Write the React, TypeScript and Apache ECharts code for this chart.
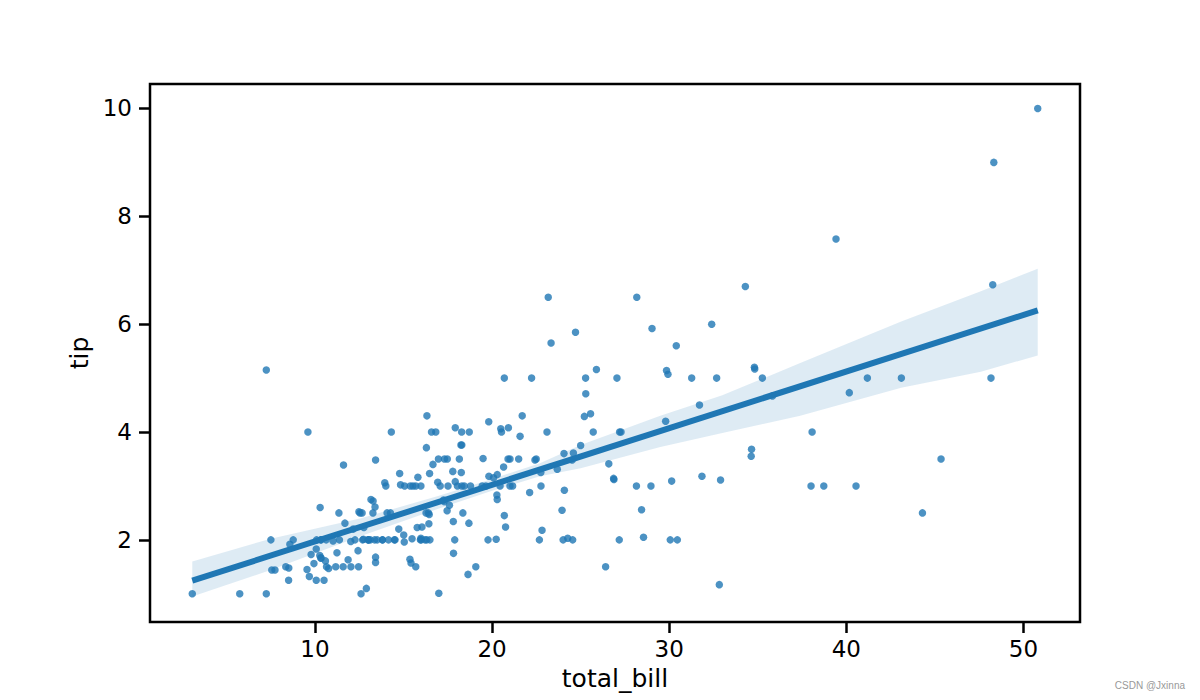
import React, { useEffect, useRef } from "react";
import * as echarts from "echarts";

const totalBill = [
  16.99, 10.34, 21.01, 23.68, 24.59, 25.29, 8.77, 26.88, 15.04, 14.78, 10.27, 35.26, 15.42, 18.43, 14.83, 21.58,
  10.33, 16.29, 16.97, 20.65, 17.92, 20.29, 15.77, 39.42, 19.82, 17.81, 13.37, 12.69, 21.7, 19.65, 9.55, 18.35,
  15.06, 20.69, 17.78, 24.06, 16.31, 16.93, 18.69, 31.27, 16.04, 17.46, 13.94, 9.68, 30.4, 18.29, 22.23, 32.4,
  28.55, 18.04, 12.54, 10.29, 34.81, 9.94, 25.56, 19.49, 38.01, 26.41, 11.24, 48.27, 20.29, 13.81, 11.02, 18.29,
  17.59, 20.08, 16.45, 3.07, 20.23, 15.01, 12.02, 17.07, 26.86, 25.28, 14.73, 10.51, 17.92, 27.2, 22.76, 17.29,
  19.44, 16.66, 10.07, 32.68, 15.98, 34.83, 13.03, 18.28, 24.71, 21.16, 28.97, 22.49, 5.75, 16.32, 22.75, 40.17,
  27.28, 12.03, 21.01, 12.46, 11.35, 15.38, 44.3, 22.42, 20.92, 15.36, 20.49, 25.21, 18.24, 14.31, 14.0, 7.25,
  38.07, 23.95, 25.71, 17.31, 29.93, 10.65, 12.43, 24.08, 11.69, 13.42, 14.26, 15.95, 12.48, 29.8, 8.52, 14.52,
  11.38, 22.82, 19.08, 20.27, 11.17, 12.26, 18.26, 8.51, 10.33, 14.15, 16.0, 13.16, 17.47, 34.3, 41.19, 27.05,
  16.43, 8.35, 18.64, 11.87, 9.78, 7.51, 14.07, 13.13, 17.26, 24.55, 19.77, 29.85, 48.17, 25.0, 13.39, 16.49,
  21.5, 12.66, 16.21, 13.81, 17.51, 24.52, 20.76, 31.71, 10.59, 10.63, 50.81, 15.81, 7.25, 31.85, 16.82, 32.9,
  17.89, 14.48, 9.6, 34.63, 34.65, 23.33, 45.35, 23.17, 40.55, 20.69, 20.9, 30.46, 18.15, 23.1, 15.69, 19.81,
  28.44, 15.48, 16.58, 7.56, 10.34, 43.11, 13.0, 13.51, 18.71, 12.74, 13.0, 16.4, 20.53, 16.47, 26.59, 38.73,
  24.27, 12.76, 30.06, 25.89, 48.33, 13.27, 28.17, 12.9, 28.15, 11.59, 7.74, 30.14, 12.16, 13.42, 8.58, 15.98,
  13.42, 16.27, 10.09, 20.45, 13.28, 22.12, 24.01, 15.69, 11.61, 10.77, 15.53, 10.07, 12.6, 32.83, 35.83, 29.03,
  27.18, 22.67, 17.82, 18.78,
];

const tip = [
  1.01, 1.66, 3.5, 3.31, 3.61, 4.71, 2.0, 3.12, 1.96, 3.23, 1.71, 5.0, 1.57, 3.0, 3.02, 3.92,
  1.67, 3.71, 3.5, 3.35, 4.08, 2.75, 2.23, 7.58, 3.18, 2.34, 2.0, 2.0, 4.3, 3.0, 1.45, 2.5,
  3.0, 2.45, 3.27, 3.6, 2.0, 3.07, 2.31, 5.0, 2.24, 2.54, 3.06, 1.32, 5.6, 3.0, 5.0, 6.0,
  2.05, 3.0, 2.5, 2.6, 5.2, 1.56, 4.34, 3.51, 3.0, 1.5, 1.76, 6.73, 3.21, 2.0, 1.98, 3.76,
  2.64, 3.15, 2.47, 1.0, 2.01, 2.09, 1.97, 3.0, 3.14, 5.0, 2.2, 1.25, 3.08, 4.0, 3.0, 2.71,
  3.0, 3.4, 1.83, 5.0, 2.03, 5.17, 2.0, 4.0, 5.85, 3.0, 3.0, 3.5, 1.0, 4.3, 3.25, 4.73,
  4.0, 1.5, 3.0, 1.5, 2.5, 3.0, 2.5, 3.48, 4.08, 1.64, 4.06, 4.29, 3.76, 4.0, 3.0, 1.0,
  4.0, 2.55, 4.0, 3.5, 5.07, 1.5, 1.8, 2.92, 2.31, 1.68, 2.5, 2.0, 2.52, 4.2, 1.48, 2.0,
  2.0, 2.18, 1.5, 2.83, 1.5, 2.0, 3.25, 1.25, 2.0, 2.0, 2.0, 2.75, 3.5, 6.7, 5.0, 5.0,
  2.3, 1.5, 1.36, 1.63, 1.73, 2.0, 2.5, 2.0, 2.74, 2.0, 2.0, 5.14, 5.0, 3.75, 2.61, 2.0,
  3.5, 2.5, 2.0, 2.0, 3.0, 3.48, 2.24, 4.5, 1.61, 2.0, 10.0, 3.16, 5.15, 3.18, 4.0, 3.11,
  2.0, 2.0, 4.0, 3.55, 3.68, 5.65, 3.5, 6.5, 3.0, 5.0, 3.5, 2.0, 3.5, 4.0, 1.5, 4.19,
  2.56, 2.02, 4.0, 1.44, 2.0, 5.0, 2.0, 2.0, 4.0, 2.01, 2.0, 2.5, 4.0, 3.23, 3.41, 3.0,
  2.03, 2.23, 2.0, 5.16, 9.0, 2.5, 6.5, 1.1, 3.0, 1.5, 1.44, 3.09, 2.2, 3.48, 1.92, 3.0,
  1.58, 2.5, 2.0, 3.0, 2.72, 2.88, 2.0, 3.0, 3.39, 1.47, 3.0, 1.25, 1.0, 1.17, 4.67, 5.92,
  2.0, 2.0, 1.75, 3.0,
];

// 95% confidence band
const bandX = [3.07, 7.5, 12.6, 17, 20, 22.7, 25, 29.5, 33, 37.4, 43.1, 47.6, 50.81];
const bandUpper = [1.6, 2.02, 2.4, 2.82, 3.13, 3.42, 3.76, 4.3, 4.68, 5.28, 6.05, 6.61, 7.03];
const bandLower = [0.95, 1.44, 2.07, 2.58, 2.91, 3.18, 3.33, 3.72, 3.98, 4.3, 4.82, 5.12, 5.42];

const xTicks = [10, 20, 30, 40, 50];
const yTicks = [2, 4, 6, 8, 10];

const BLUE = "#1f77b4";
const FONT = "DejaVu Sans";

function fitLine(xs: number[], ys: number[]) {
  const n = xs.length;
  const mx = xs.reduce((a, b) => a + b, 0) / n;
  const my = ys.reduce((a, b) => a + b, 0) / n;
  let sxy = 0;
  let sxx = 0;
  for (let i = 0; i < n; i++) {
    sxy += (xs[i] - mx) * (ys[i] - my);
    sxx += (xs[i] - mx) * (xs[i] - mx);
  }
  const slope = sxy / sxx;
  return { slope, intercept: my - slope * mx };
}

export default function App() {
  const ref = useRef<HTMLDivElement>(null);

  useEffect(() => {
    if (!ref.current) return;
    const chart = echarts.init(ref.current, null, { renderer: "svg" });
    const { slope, intercept } = fitLine(totalBill, tip);
    const xLo = Math.min(...totalBill);
    const xHi = Math.max(...totalBill);
    const lineData = [
      [xLo, intercept + slope * xLo],
      [xHi, intercept + slope * xHi],
    ];
    const scatterData = totalBill.map((x, i) => [x, tip[i]]);
    const bandData = bandX.map((x, i) => [x, bandLower[i], bandUpper[i]]);

    chart.setOption({
      animation: false,
      backgroundColor: "#ffffff",
      grid: {
        left: 150,
        right: 120,
        top: 84,
        bottom: 78,
        show: true,
        borderColor: "#000000",
        borderWidth: 2.5,
        backgroundColor: "transparent",
      },
      xAxis: {
        type: "value",
        min: 0.683,
        max: 53.197,
        name: "total_bill",
        nameLocation: "middle",
        nameGap: 44,
        nameTextStyle: { fontFamily: FONT, fontSize: 25, color: "#000" },
        axisLine: { show: false },
        splitLine: { show: false },
        axisTick: {
          show: true,
          inside: false,
          length: 11,
          customValues: xTicks,
          lineStyle: { color: "#000", width: 2.5 },
        },
        axisLabel: {
          customValues: xTicks,
          margin: 15,
          fontFamily: FONT,
          fontSize: 23,
          color: "#000",
        },
      },
      yAxis: {
        type: "value",
        min: 0.477,
        max: 10.454,
        name: "tip",
        nameLocation: "middle",
        nameGap: 47,
        nameRotate: 90,
        nameTextStyle: { fontFamily: FONT, fontSize: 25, color: "#000" },
        axisLine: { show: false },
        splitLine: { show: false },
        axisTick: {
          show: true,
          inside: false,
          length: 11,
          customValues: yTicks,
          lineStyle: { color: "#000", width: 2.5 },
        },
        axisLabel: {
          customValues: yTicks,
          margin: 18,
          fontFamily: FONT,
          fontSize: 23,
          color: "#000",
        },
      },
      graphic: [
        {
          type: "text",
          right: 15,
          top: 680,
          style: {
            text: "CSDN @Jxinna",
            fontFamily: "Liberation Sans",
            fontSize: 10,
            fill: "#999999",
          },
        },
      ],
      series: [
        {
          type: "scatter",
          data: scatterData,
          symbolSize: 7.5,
          itemStyle: { color: BLUE, opacity: 0.8 },
          z: 2,
        },
        {
          type: "custom",
          data: bandData,
          encode: { x: 0, y: [1, 2] },
          z: 3,
          silent: true,
          renderItem: (params: any, api: any) => {
            if (params.dataIndex !== 0) return null;
            const pts: number[][] = [];
            for (let i = 0; i < bandX.length; i++) pts.push(api.coord([bandX[i], bandUpper[i]]));
            for (let i = bandX.length - 1; i >= 0; i--) pts.push(api.coord([bandX[i], bandLower[i]]));
            return {
              type: "polygon",
              shape: { points: pts },
              style: { fill: BLUE, opacity: 0.15, stroke: "none" },
            };
          },
        },
        {
          type: "line",
          data: lineData,
          showSymbol: false,
          lineStyle: { color: BLUE, width: 6 },
          itemStyle: { color: BLUE },
          z: 4,
        },
      ],
    });
    return () => chart.dispose();
  }, []);

  return (
    <div
      ref={ref}
      style={{ position: "fixed", left: 0, top: 0, width: 1200, height: 700 }}
    />
  );
}
